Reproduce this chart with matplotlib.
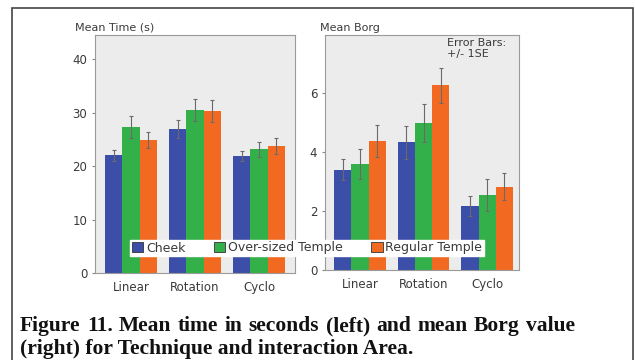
import matplotlib
matplotlib.use("Agg")
import matplotlib.pyplot as plt
import numpy as np
from matplotlib.patches import Patch, Rectangle

# data
techniques = ["Linear", "Rotation", "Cyclo"]
areas = ["Cheek", "Over-sized Temple", "Regular Temple"]
time_mean = {"Cheek": [22.0, 27.0, 21.9],
             "Over-sized Temple": [27.3, 30.5, 23.1],
             "Regular Temple": [24.9, 30.3, 23.7]}
time_se = {"Cheek": [1.0, 1.7, 1.0],
           "Over-sized Temple": [2.0, 2.0, 1.4],
           "Regular Temple": [1.5, 2.0, 1.5]}
borg_mean = {"Cheek": [3.39, 4.32, 2.17],
             "Over-sized Temple": [3.59, 4.97, 2.54],
             "Regular Temple": [4.37, 6.25, 2.82]}
borg_se = {"Cheek": [0.36, 0.55, 0.33],
           "Over-sized Temple": [0.5, 0.65, 0.55],
           "Regular Temple": [0.55, 0.6, 0.45]}
caption = ["Figure 11. Mean time in seconds (left) and mean Borg value",
           "(right) for Technique and interaction Area."]

COLORS = {"Cheek": "#3b4ea8", "Over-sized Temple": "#34b04b", "Regular Temple": "#f26a22"}
BG = "#ececec"; TXT = "#3a3a3a"

fig = plt.figure(figsize=(6.35, 3.6), dpi=100)
fig.patch.set_facecolor("white")
# page frame
fig.patches.append(Rectangle((12/635, -0.1), 621/635, 1.1 - 8/360, transform=fig.transFigure,
                             fill=False, edgecolor="#444", lw=1.2))

ax1 = fig.add_axes([95/635, 87/360, 200/635, 238/360])
ax2 = fig.add_axes([325/635, 90/360, 194/635, 235/360])

w = 0.27
x = np.arange(len(techniques))
for ax, means, ses, ylim, yt in [(ax1, time_mean, time_se, 44.5, [0, 10, 20, 30, 40]),
                                 (ax2, borg_mean, borg_se, 7.95, [0, 2, 4, 6])]:
    ax.set_facecolor(BG)
    for i, a in enumerate(areas):
        ax.bar(x + (i - 1) * w, means[a], w, color=COLORS[a], zorder=2)
        ax.errorbar(x + (i - 1) * w, means[a], yerr=ses[a], fmt="none", ecolor="#6a6a6a",
                    elinewidth=0.8, capsize=1.5, capthick=0.8, zorder=3)
    ax.set_ylim(0, ylim)
    ax.set_yticks(yt)
    ax.set_xticks(x); ax.set_xticklabels(techniques)
    ax.tick_params(axis="x", length=0, labelsize=8.5, labelcolor=TXT, pad=6)
    ax.tick_params(axis="y", length=2.5, color="#888", labelsize=8.5, labelcolor=TXT, pad=3)
    for s in ax.spines.values():
        s.set_color("#9a9a9a"); s.set_linewidth(0.8)

ax1.set_xlim(-0.56, 2.56)
ax2.set_xlim(-0.55, 2.5)

fig.text(75/635, 1 - 28/360, "Mean Time (s)", fontsize=8, color=TXT, va="center")
fig.text(320/635, 1 - 28/360, "Mean Borg", fontsize=8, color=TXT, va="center")
fig.text(447/635, 1 - 38/360, "Error Bars:\n+/- 1SE", fontsize=8, color=TXT, va="top",
         linespacing=1.15)

handles = [Patch(facecolor=COLORS[a], edgecolor="#333", lw=0.6) for a in areas]
fig.legend(handles, areas, loc="center", bbox_to_anchor=(307/635, 1 - 248/360), ncol=3,
           fontsize=9, frameon=True, fancybox=False, framealpha=1, edgecolor="white",
           handlelength=0.9, handleheight=0.9, handletextpad=0.2, columnspacing=2.3,
           borderpad=0.15, labelcolor=TXT)

# caption: first line justified between 20 and 575 px, second line left-aligned
cap_kw = dict(fontsize=15.5, fontweight="bold", family="Liberation Serif", va="baseline", color="#111")
renderer = fig.canvas.get_renderer()
words = caption[0].split()
objs = [fig.text(0, 0, wd, **cap_kw) for wd in words]
widths = [o.get_window_extent(renderer).width for o in objs]
gap = (555 - sum(widths)) / (len(words) - 1)
xpos = 20
for o, wd in zip(objs, widths):
    o.set_position((xpos / 635, 1 - 331/360))
    xpos += wd + gap
fig.text(20/635, 1 - 354/360, caption[1], **cap_kw)

fig.savefig("out.png", dpi=100)
